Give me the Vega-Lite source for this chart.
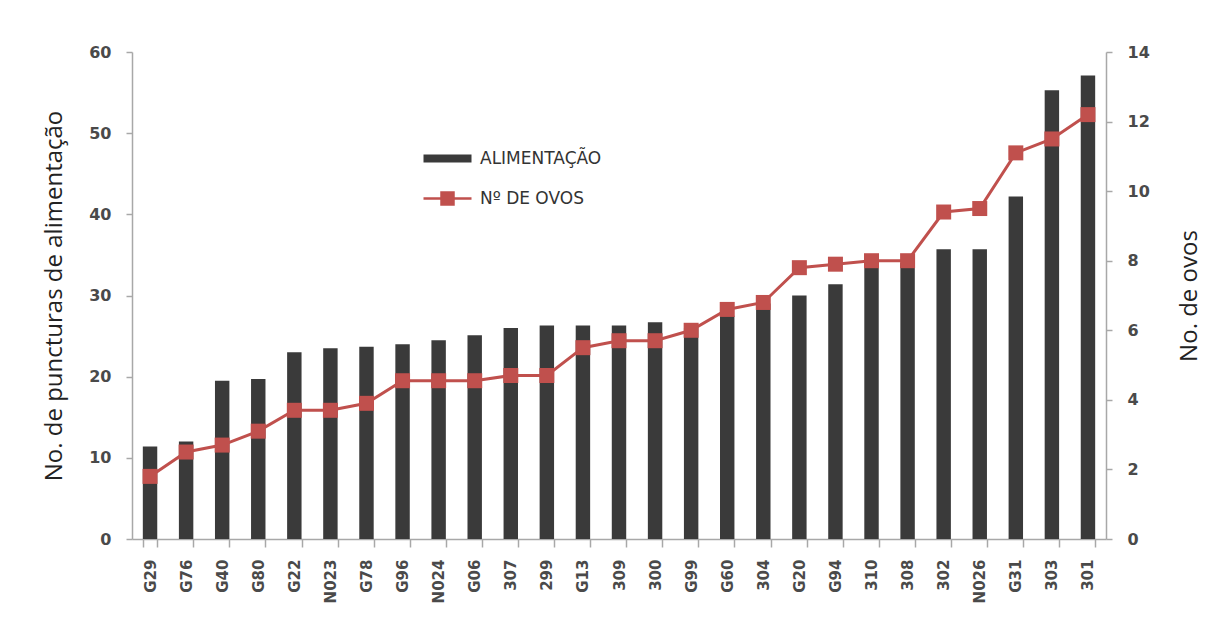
{
  "$schema": "https://vega.github.io/schema/vega-lite/v6.json",
  "width": 974,
  "height": 487,
  "autosize": {"type": "none"},
  "padding": {"left": 132, "top": 52, "right": 119, "bottom": 99},
  "background": "white",
  "config": {
    "view": {"stroke": null},
    "axis": {
      "grid": false,
      "domainColor": "#a8a8a8",
      "domainWidth": 1.5,
      "tickColor": "#a8a8a8",
      "tickWidth": 1.5,
      "labelFont": "DejaVu Sans",
      "labelFontSize": 16,
      "labelFontWeight": "bold",
      "labelColor": "#4a4a4a",
      "titleFont": "Open Sans",
      "titleFontSize": 24,
      "titleFontWeight": "normal",
      "titleColor": "#222222"
    }
  },
  "data": {
    "values": [
      {"id": "G29", "alim": 11.4, "ovos": 1.8},
      {"id": "G76", "alim": 12.0, "ovos": 2.5},
      {"id": "G40", "alim": 19.5, "ovos": 2.7},
      {"id": "G80", "alim": 19.7, "ovos": 3.1},
      {"id": "G22", "alim": 23.0, "ovos": 3.7},
      {"id": "N023", "alim": 23.5, "ovos": 3.7},
      {"id": "G78", "alim": 23.7, "ovos": 3.9},
      {"id": "G96", "alim": 24.0, "ovos": 4.55},
      {"id": "N024", "alim": 24.5, "ovos": 4.55},
      {"id": "G06", "alim": 25.1, "ovos": 4.55},
      {"id": "307", "alim": 26.0, "ovos": 4.7},
      {"id": "299", "alim": 26.3, "ovos": 4.7},
      {"id": "G13", "alim": 26.3, "ovos": 5.5},
      {"id": "309", "alim": 26.3, "ovos": 5.7},
      {"id": "300", "alim": 26.7, "ovos": 5.7},
      {"id": "G99", "alim": 26.0, "ovos": 6.0},
      {"id": "G60", "alim": 27.5, "ovos": 6.6},
      {"id": "304", "alim": 29.0, "ovos": 6.8},
      {"id": "G20", "alim": 30.0, "ovos": 7.8},
      {"id": "G94", "alim": 31.4, "ovos": 7.9},
      {"id": "310", "alim": 34.0, "ovos": 8.0},
      {"id": "308", "alim": 34.0, "ovos": 8.0},
      {"id": "302", "alim": 35.7, "ovos": 9.4},
      {"id": "N026", "alim": 35.7, "ovos": 9.5},
      {"id": "G31", "alim": 42.2, "ovos": 11.1},
      {"id": "303", "alim": 55.3, "ovos": 11.5},
      {"id": "301", "alim": 57.1, "ovos": 12.2}
    ]
  },
  "encoding": {
    "x": {
      "field": "id",
      "type": "nominal",
      "sort": null,
      "scale": {"paddingInner": 0.6, "paddingOuter": 0.3},
      "axis": {
        "title": null,
        "labelAngle": -90,
        "tickBand": "extent",
        "tickSize": 8,
        "labelPadding": 12,
        "labelFontSize": 15
      }
    }
  },
  "layer": [
    {
      "mark": {"type": "bar", "color": "#3a3a3a"},
      "encoding": {
        "y": {
          "field": "alim",
          "type": "quantitative",
          "scale": {"domain": [0, 60]},
          "axis": {
            "title": "No. de puncturas de alimentação",
            "values": [0, 10, 20, 30, 40, 50, 60],
            "tickSize": 6,
            "labelPadding": 15,
            "titlePadding": 22
          }
        },
        "color": {
          "datum": "ALIMENTAÇÃO",
          "type": "nominal",
          "scale": {"domain": ["ALIMENTAÇÃO", "Nº DE OVOS"], "range": ["#3a3a3a", "#c0504d"]},
          "legend": {
            "title": null,
            "orient": "none",
            "legendX": 307,
            "legendY": 98,
            "padding": 0,
            "symbolSize": 576,
            "rowPadding": 20,
            "labelOffset": 24,
            "labelFont": "DejaVu Sans",
            "labelFontSize": 17,
            "labelColor": "#333333",
            "encode": {
              "symbols": {
                "update": {
                  "shape": {"signal": "datum.value === 'ALIMENTAÇÃO' ? 'M-2,-0.33H2V0.33H-2Z' : 'M-2,0H2M-0.5,-0.5H0.5V0.5H-0.5Z'"},
                  "fill": {"signal": "datum.value === 'ALIMENTAÇÃO' ? '#3a3a3a' : '#c0504d'"},
                  "stroke": {"signal": "datum.value === 'ALIMENTAÇÃO' ? 'transparent' : '#c0504d'"},
                  "strokeWidth": {"signal": "datum.value === 'ALIMENTAÇÃO' ? 0 : 2.5"},
                  "opacity": {"value": 1},
                  "fillOpacity": {"value": 1}
                }
              }
            }
          }
        }
      }
    },
    {
      "mark": {
        "type": "line",
        "strokeWidth": 3,
        "point": {"shape": "square", "size": 225, "filled": true, "opacity": 1}
      },
      "encoding": {
        "y": {
          "field": "ovos",
          "type": "quantitative",
          "scale": {"domain": [0, 14]},
          "axis": {
            "orient": "right",
            "title": "No. de ovos",
            "values": [0, 2, 4, 6, 8, 10, 12, 14],
            "tickSize": 6,
            "labelPadding": 15,
            "titleAngle": 270,
            "titleBaseline": "top",
            "titlePadding": 28
          }
        },
        "color": {"datum": "Nº DE OVOS", "type": "nominal"}
      }
    }
  ],
  "resolve": {"scale": {"y": "independent"}}
}
